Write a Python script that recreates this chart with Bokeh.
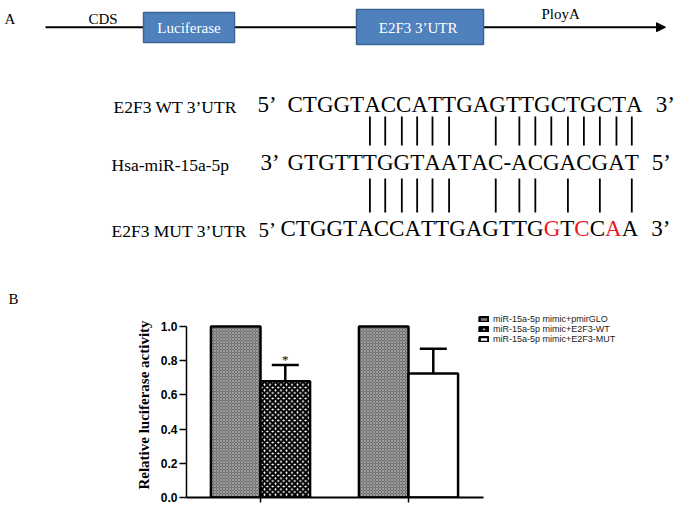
from bokeh.plotting import figure
from bokeh.models import (Range1d, Arrow, NormalHead, FixedTicker, Legend, LegendItem,
                          Whisker, TeeHead, ColumnDataSource, PrintfTickFormatter)
from bokeh.core.properties import value
from bokeh.embed import file_html
from bokeh.resources import INLINE

# ---------------- data ----------------
panel_letters = ["A", "B"]
construct_labels = ["CDS", "Luciferase", "E2F3  3\u2019UTR", "PloyA"]
row_labels = ["E2F3 WT 3\u2019UTR", "Hsa-miR-15a-5p", "E2F3 MUT 3\u2019UTR"]
wt_seq = "CTGGTACCATTGAGTTGCTGCTA"
mir_seq = "GTGTTTGGTAATAC-ACGACGAT"
mut_seq = "CTGGTACCATTGAGTTGGTCCAA"
row_ends_left = ["5\u2019", "3\u2019", "5\u2019"]
row_ends_right = ["3\u2019", "5\u2019", "3\u2019"]
mut_changed = [18, 20, 22]            # 1-based positions of mutated bases
wt_pairs = [6, 7, 8, 9, 10, 11, 14, 16, 17, 18, 19, 20, 21, 22, 23]
mut_pairs = [6, 7, 8, 9, 10, 11, 14, 16, 17, 19, 21, 23]

series_names = ["miR-15a-5p mimic+pmirGLO", "miR-15a-5p mimic+E2F3-WT", "miR-15a-5p mimic+E2F3-MUT"]
groups = [1, 2]
control_vals = [1.0, 1.0]
reporter_vals = [0.68, 0.725]
reporter_err = [0.095, 0.145]
significance = ["*", ""]
y_ticks = [0.0, 0.2, 0.4, 0.6, 0.8, 1.0]
y_label = "Relative luciferase activity"

# ---------------- layout / style ----------------
W = 677
HA = 310
HB = 199
SERIF = value("Liberation Serif")
TNR = {"A": 0.722, "C": 0.667, "G": 0.722, "T": 0.611, "-": 0.333}
CAP = 0.331  # half cap-height ratio (Times)


def char_layout(seq, x0, size):
    centers = []
    x = x0
    for ch in seq:
        w = TNR[ch] * size
        centers.append(x + w / 2)
        x += w
    return centers, x


def mid(baseline, size):
    return baseline - CAP * size


# ============ Panel A ============
pa = figure(width=W, height=HA, x_range=Range1d(0, W), y_range=Range1d(HA, 0),
            output_backend="svg", toolbar_location=None, min_border=0,
            x_axis_location=None, y_axis_location=None, outline_line_color=None)
pa.grid.visible = False

# panel letters
pa.text(x=[4, 8], y=[18, 298], text=panel_letters, text_font=SERIF,
        text_font_size=value("15px"), text_color="black", text_baseline="middle")

# construct line with arrow (behind the boxes)
pa.add_layout(Arrow(end=NormalHead(size=9, fill_color="black", line_color="black", line_width=1),
                    x_start=45, y_start=26.7, x_end=665, y_end=26.7,
                    line_width=2, line_color="black", level="underlay"))

box_left = [143, 356]
box_right = [234, 483]
box_top = [12, 9]
box_bottom = [42, 44]
pa.quad(left=box_left, right=box_right, top=box_top, bottom=box_bottom,
        fill_color="#4F81BD", line_color="#3A6696", line_width=1.5)

pa.text(x=[(box_left[0] + box_right[0]) / 2, (box_left[1] + box_right[1]) / 2],
        y=[27, 27], text=construct_labels[1:3], text_font=SERIF,
        text_font_size=value("15px"), text_color="white",
        text_align="center", text_baseline="middle")
pa.text(x=[88, 541], y=[18, 13.5], text=[construct_labels[0], construct_labels[3]],
        text_font=SERIF, text_font_size=value("15px"), text_color="black",
        text_baseline="middle")

# sequence rows
SEQ = 23
LAB = 17.5
row_base = [112, 170, 236]
seq_x0 = [287, 287, 280]
left_x = [257, 260, 258]
left_size = [23, 23, 21]
label_x = [113, 111, 111]

pa.text(x=label_x, y=[mid(b, LAB) for b in row_base], text=row_labels, text_font=SERIF,
        text_font_size=value("%.1fpx" % LAB), text_color="black", text_baseline="middle")

seqs = [wt_seq, mir_seq, mut_seq]
all_centers = []
for i, s in enumerate(seqs):
    centers, xend = char_layout(s, seq_x0[i], SEQ)
    all_centers.append(centers)
    colors = ["#E8181E" if (i == 2 and (k + 1) in mut_changed) else "black" for k in range(len(s))]
    ym = mid(row_base[i], SEQ)
    pa.text(x=centers, y=[ym] * len(s), text=list(s), text_color=colors,
            text_font=SERIF, text_font_size=value("%dpx" % SEQ),
            text_align="center", text_baseline="middle")
    pa.text(x=[left_x[i]], y=[mid(row_base[i], left_size[i])], text=[row_ends_left[i]],
            text_font=SERIF, text_font_size=value("%dpx" % left_size[i]), text_baseline="middle")
    pa.text(x=[xend + 13], y=[ym], text=[row_ends_right[i]], text_font=SERIF,
            text_font_size=value("%dpx" % SEQ), text_baseline="middle")

mc = all_centers[1]
top_x = [mc[k - 1] for k in wt_pairs]
bot_x = [mc[k - 1] for k in mut_pairs]
pa.segment(x0=top_x, y0=[116] * len(top_x), x1=top_x, y1=[145] * len(top_x),
           line_color="black", line_width=1.8)
pa.segment(x0=bot_x, y0=[178] * len(bot_x), x1=bot_x, y1=[212] * len(bot_x),
           line_color="black", line_width=1.8)

# ============ Panel B ============
ML, MR, MT, MBOT = 186, 10, 2, 12
PX_X = 148.0   # px per group unit
PX_Y = 171.0   # px per 1.0 activity
fw = W - ML - MR
fh = HB - MT - MBOT
pb = figure(width=W, height=HB, x_range=Range1d(0.5, 0.5 + fw / PX_X),
            y_range=Range1d(0, fh / PX_Y), output_backend="svg", toolbar_location=None,
            min_border_left=ML, min_border_right=MR, min_border_top=MT, min_border_bottom=MBOT,
            outline_line_color=None)
pb.grid.visible = False

off = 0.1675
bw = 0.335
x_ctrl = [g - off for g in groups]
x_rep = [g + off for g in groups]

r_ctrl = pb.vbar(x=x_ctrl, top=control_vals, width=bw, fill_color="#6c6c6c",
                 hatch_pattern="x", hatch_color="#b4b4b4", hatch_scale=3, hatch_weight=0.7,
                 line_color="black", line_width=2.5)
r_wt = pb.vbar(x=[x_rep[0]], top=[reporter_vals[0]], width=bw, fill_color="white",
               hatch_pattern="x", hatch_color="black", hatch_scale=5.5, hatch_weight=2.2,
               line_color="black", line_width=2.5)
r_mut = pb.vbar(x=[x_rep[1]], top=[reporter_vals[1]], width=bw, fill_color="white",
                line_color="black", line_width=2.5)

err_src = ColumnDataSource(dict(x=x_rep, lower=reporter_vals,
                                upper=[v + e for v, e in zip(reporter_vals, reporter_err)]))
pb.add_layout(Whisker(source=err_src, base="x", lower="lower", upper="upper",
                      lower_head=None, upper_head=TeeHead(size=27, line_width=2.5, line_color="black"),
                      line_width=2.5, line_color="black", level="glyph"))

sig = [(x, v + e + 0.03, s) for x, v, e, s in zip(x_rep, reporter_vals, reporter_err, significance) if s]
pb.text(x=[t[0] for t in sig], y=[t[1] for t in sig], text=[t[2] for t in sig],
        text_font=SERIF, text_font_size=value("13px"), text_align="center",
        text_baseline="middle", text_color="black")

# axes
pb.yaxis.ticker = FixedTicker(ticks=y_ticks)
pb.yaxis.formatter = PrintfTickFormatter(format="%.1f")
pb.yaxis.bounds = (0, 1.0)
pb.yaxis.major_tick_in = 0
pb.yaxis.major_tick_out = 7
pb.yaxis.minor_tick_line_color = None
pb.yaxis.axis_line_width = 1.5
pb.yaxis.major_tick_line_width = 1.5
pb.yaxis.major_label_text_font = "Liberation Sans"
pb.yaxis.major_label_text_font_style = "bold"
pb.yaxis.major_label_text_font_size = "12px"
pb.yaxis.major_label_text_color = "black"
pb.yaxis.major_label_standoff = 2
pb.yaxis.axis_label = y_label
pb.yaxis.axis_label_text_font = "Liberation Serif"
pb.yaxis.axis_label_text_font_style = "bold"
pb.yaxis.axis_label_text_font_size = "15px"
pb.yaxis.axis_label_text_color = "black"
pb.yaxis.axis_label_standoff = 6

pb.xaxis.ticker = FixedTicker(ticks=groups)
pb.xaxis.bounds = (0.5, 2.51)
pb.xaxis.major_tick_in = 0
pb.xaxis.major_tick_out = 5
pb.xaxis.minor_tick_line_color = None
pb.xaxis.axis_line_width = 2
pb.xaxis.major_tick_line_width = 1.5
pb.xaxis.major_label_text_font_size = "0px"
pb.xaxis.major_label_text_color = None
pb.xaxis.major_label_standoff = 0

legend = Legend(items=[LegendItem(label=series_names[0], renderers=[r_ctrl]),
                       LegendItem(label=series_names[1], renderers=[r_wt]),
                       LegendItem(label=series_names[2], renderers=[r_mut])],
                location=(292, 153), orientation="vertical",
                label_text_font="Liberation Sans", label_text_font_size="9px",
                label_text_color="#222222", glyph_width=11, glyph_height=6,
                label_height=7, spacing=0, padding=2, margin=0, label_standoff=4,
                border_line_color=None, background_fill_alpha=0)
pb.add_layout(legend)

open("out.html", "w", encoding="utf-8").write(file_html([pa, pb], INLINE))
